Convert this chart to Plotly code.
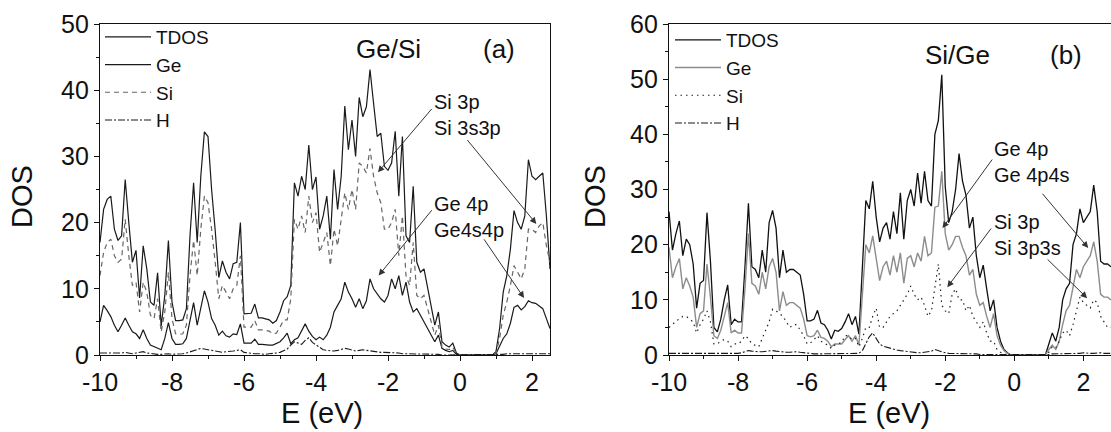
import numpy as np
import plotly.graph_objects as go

# Energy grids (eV) for the two panels, 0.1 eV sampling
E_A = np.round(np.arange(-10.0, 2.5001, 0.1), 1)
E_B = np.round(np.arange(-10.0, 2.8001, 0.1), 1)

# ---- panel (a): Ge/Si ----
TDOS_A = [
    17, 22, 23.5, 24, 19, 17.3, 18, 26.5, 20, 14,
    15.8, 8.6, 16.5, 13, 8, 7.5, 12.4, 4.4, 9, 17.3,
    8, 5.2, 5.2, 5.3, 7, 18, 26, 17, 27, 33.7,
    33, 25, 18.8, 11.7, 14.2, 12.5, 11.5, 13.8, 14, 20,
    6.2, 6.2, 6.3, 7.7, 5.6, 5.6, 5.5, 5.3, 4.8, 5.2,
    6.5, 8.2, 8.8, 10.5, 26, 24, 27, 25, 31.7, 25,
    26.9, 19, 21, 24, 17.5, 28, 22, 27, 37.6, 31,
    35.5, 30, 38.9, 36, 37.5, 43.1, 38, 33, 33.5, 28.5,
    27.9, 29, 33.8, 24, 33, 18, 17, 25.5, 14, 12.5,
    13, 10, 7, 4.5, 6.5, 2, 1.5, 1.2, 1.8, 0.3,
    0, 0, 0, 0, 0, 0, 0, 0, 0, 0,
    0.5, 4, 9.5, 12, 16, 21.8, 20, 19, 21, 29.5,
    27, 26.5, 27, 27.5, 21, 13,
]
GE_A = [
    5, 7.5, 6.7, 5.8, 4.5, 3.5, 4.5, 5.6, 4.5, 3.5,
    3.2, 2.5, 3.8, 2.5, 1.5, 1.3, 1.1, 0.8, 2.5, 4.9,
    2.5, 1.6, 1.6, 1.7, 2.5, 5.5, 7.9, 4.5, 7, 9.7,
    8, 5.5, 4.5, 3, 3.6, 2.9, 2.7, 3.2, 3.1, 4.7,
    1.8, 1.8, 1.8, 2.4, 1.6, 1.6, 1.5, 1.5, 1.5, 1.8,
    2.0, 2.6, 3.3, 1.7, 2.3, 2.6, 3.6, 4.7, 3.6, 2.8,
    2.3, 2.7, 2.3, 3.0, 4.2, 6.5, 7.5, 8.5, 11, 9.5,
    8.5, 7.2, 8.5, 7, 8.2, 11.5, 10, 9.2, 8.5, 8,
    9, 11.5, 10, 12, 9, 11, 8, 6.5, 7, 6,
    5, 4, 3, 2, 3, 1, 0.7, 0.5, 0.7, 0.1,
    0, 0, 0, 0, 0, 0, 0, 0, 0, 0,
    0.2, 1.3, 2.5, 3.2, 4.8, 7.2, 7.5, 6.8, 7.3, 8.2,
    7.9, 7.8, 7.4, 7.0, 5.5, 4,
]
SI_A = [
    12, 15.5, 17, 17.5, 15, 14, 14.5, 20.5, 15, 10.5,
    11, 6.5, 11, 9.5, 6, 5.5, 8.5, 3.5, 6.5, 12.5,
    5.5, 3.2, 3.1, 3.2, 4.5, 12, 17.3, 12, 19, 24,
    23, 19, 14, 8.5, 10.5, 9.5, 8.5, 10, 10.5, 15,
    4.2, 4.2, 4.2, 5.2, 3.8, 3.8, 3.7, 3.6, 3.2, 3.3,
    4.2, 5.3, 5.3, 8.5, 20.5, 19, 21, 18.5, 24, 20,
    21.5, 15.5, 17, 18.5, 13.5, 19, 16.5, 20.5, 24.5, 22,
    25, 22, 29, 28.5, 27.5, 31.2, 27, 24.5, 23, 19,
    19, 20, 22, 15, 21, 12, 10.5, 17, 9, 8.5,
    9, 7, 5, 3, 4.5, 1.3, 0.9, 0.8, 1.2, 0.2,
    0, 0, 0, 0, 0, 0, 0, 0, 0, 0,
    0.3, 2.5, 6, 8, 10.5, 13.5, 12.5, 11.5, 13, 19,
    19, 18.5, 19.5, 20, 16.5, 14,
]
H_A = [
    0.3, 0.3, 0.2, 0.2, 0.2, 0.3, 0.3, 0.4, 0.3, 0.2,
    0.3, 0.4, 0.5, 0.3, 0.2, 0.2, 0.1, 0.1, 0.2, 0.2,
    0.1, 0.1, 0.1, 0.2, 0.3, 0.5, 0.7, 0.8, 1.0, 0.9,
    0.8, 0.6, 0.5, 0.4, 0.4, 0.5, 0.5, 0.6, 0.7, 0.8,
    0.4, 0.3, 0.2, 0.2, 0.2, 0.1, 0.1, 0.2, 0.2, 0.3,
    0.4, 0.6, 0.9, 1.5, 2.0, 1.8, 1.6, 2.2, 2.6, 1.9,
    1.5, 1.1, 0.8, 0.7, 0.6, 0.6, 0.7, 0.8, 1.0, 0.9,
    0.8, 0.6, 0.7, 0.8, 0.7, 0.6, 0.5, 0.5, 0.4, 0.4,
    0.4, 0.3, 0.3, 0.3, 0.2, 0.2, 0.2, 0.2, 0.1, 0.1,
    0.1, 0.1, 0.1, 0.1, 0.1, 0.0, 0.0, 0.0, 0.0, 0.0,
    0, 0, 0, 0, 0, 0, 0, 0, 0, 0,
    0.0, 0.1, 0.1, 0.2, 0.2, 0.2, 0.2, 0.3, 0.2, 0.2,
    0.3, 0.3, 0.2, 0.3, 0.2, 0.2,
]

# ---- panel (b): Si/Ge ----
TDOS_B = [
    26, 19, 22, 24.3, 18, 21, 20, 16.5, 8.5, 13,
    13.5, 25.8, 17, 5, 4.2, 6.5, 10, 12.7, 5.5, 6.5,
    6, 6, 16, 27.5, 16, 15.5, 14, 19, 15, 24,
    26.2, 23, 14, 19, 15, 15.5, 15.5, 15, 14.5, 11,
    6.2, 6.2, 6.5, 8.1, 5.8, 5.5, 4.5, 2.9, 4.5, 4.3,
    4.8, 6, 7.5, 5.5, 7, 3.8, 17, 28, 26.5, 31.5,
    25, 20.5, 23, 24, 21, 26, 22, 29.4, 21, 28,
    30, 27, 33, 27.5, 33.3, 28, 27, 40, 42.5, 50.8,
    30.5, 24, 26, 30, 36.5, 31.5, 29, 23, 25, 18,
    14, 16.3, 12, 8, 10, 5, 2.5, 1, 0.4, 0,
    0, 0, 0, 0, 0, 0, 0, 0, 0, 0,
    2, 4, 2.5, 5, 10, 12, 13, 20, 22, 26.5,
    24, 25, 26, 30.8, 26, 17, 16.5, 16.5, 16,
]
GE_B = [
    19.5, 14, 16, 17.5, 12, 14, 12.5, 10.5, 5, 7.5,
    8, 16.5, 10.5, 3.5, 3, 4.5, 7, 9.5, 4, 4.5,
    4, 4, 12, 22, 13, 12.5, 11, 15, 12, 16,
    17.5, 15, 8, 11.5, 9, 9.5, 9.5, 9, 8.5, 6.5,
    3.5, 3.3, 3.5, 4.5, 3.2, 3, 2.5, 1.5, 2, 2,
    2, 2.8, 3.5, 2.5, 3.5, 1.8, 10, 20, 18.5, 21.6,
    17.5, 13.5, 16, 17, 14.5, 18, 15, 18.5, 13, 17.5,
    18, 16, 18.5, 17, 21.5, 18, 18.5, 26.8, 27, 33.3,
    22, 19, 20, 21.5, 21.5, 19.5, 18, 14.5, 15.5, 11,
    9, 9.5, 7, 5, 7.5, 3.5, 1.8, 0.8, 0.3, 0,
    0, 0, 0, 0, 0, 0, 0, 0, 0, 0,
    1, 1.8, 1, 2.5, 5.5, 8, 9, 12, 15.5, 14,
    16, 17, 18, 20.5, 17, 11, 10.5, 10.5, 10,
]
SI_B = [
    5, 5.5, 6.2, 6.5, 7, 7, 6.5, 6, 4, 5.5,
    6.5, 8, 6, 2, 2, 2.5, 2.8, 2.5, 1.5, 2,
    2, 2.5, 3.5, 3, 2, 1.8, 1.5, 3, 4.5, 6,
    8.3, 8, 7.5, 7, 6, 5, 5.5, 5.5, 4.5, 3.5,
    2, 2.2, 2.8, 3.5, 2.5, 2.2, 1.8, 1.2, 1.8, 2,
    2.3, 3.5, 3.5, 2.8, 3, 1.5, 3, 5, 5, 7,
    8.5, 5, 5, 6, 7, 7.5, 8, 9, 10, 11,
    12.5, 11, 10, 10.5, 9, 7, 8, 12, 16.5, 9,
    8, 7.5, 11, 12, 10, 10, 8, 9, 7, 6,
    5, 6, 4, 2.5, 2.5, 1, 0.5, 0.2, 0, 0,
    0, 0, 0, 0, 0, 0, 0, 0, 0, 0,
    0.5, 1.5, 1.3, 2.5, 4, 4.5, 3.5, 5.5, 8, 10.5,
    9.5, 9, 8.5, 10, 9.5, 7, 6, 5, 5,
]
H_B = [
    0.3, 0.3, 0.3, 0.2, 0.2, 0.2, 0.3, 0.3, 0.2, 0.2,
    0.3, 0.3, 0.3, 0.2, 0.2, 0.2, 0.2, 0.3, 0.3, 0.2,
    0.3, 0.4, 0.6, 0.8, 0.7, 0.6, 0.6, 0.6, 0.7, 0.7,
    0.8, 0.7, 0.6, 0.6, 0.5, 0.5, 0.6, 0.6, 0.5, 0.4,
    0.3, 0.2, 0.2, 0.2, 0.2, 0.2, 0.2, 0.2, 0.2, 0.2,
    0.2, 0.2, 0.2, 0.2, 0.2, 0.3, 0.8, 2.2, 3.3, 4.0,
    3.0, 2.0, 1.6, 1.4, 1.2, 1.0, 0.9, 0.8, 0.7, 0.6,
    0.5, 0.5, 0.4, 0.4, 0.5, 0.6, 0.7, 1.0, 0.8, 0.5,
    0.4, 0.3, 0.3, 0.3, 0.2, 0.2, 0.2, 0.2, 0.2, 0.2,
    0.1, 0.1, 0.1, 0.1, 0.1, 0.1, 0.0, 0.0, 0.0, 0.0,
    0, 0, 0, 0, 0, 0, 0, 0, 0, 0,
    0.1, 0.2, 0.2, 0.2, 0.2, 0.2, 0.3, 0.3, 0.3, 0.3,
    0.4, 0.3, 0.3, 0.3, 0.4, 0.4, 0.3, 0.3, 0.3,
]

SERIES_NAMES = ["TDOS", "Ge", "Si", "H"]
X_TICKS = [-10, -8, -6, -4, -2, 0, 2]
X_TICK_TEXT = ["-10", "-8", "-6", "-4", "-2", "0", "2"]
Y_TICKS_A = [0, 10, 20, 30, 40, 50]
Y_TICKS_B = [0, 10, 20, 30, 40, 50, 60]

FONT = "Liberation Sans, Arial, Helvetica, sans-serif"
W, H = 1111, 432

fig = go.Figure()

style_a = [
    dict(color="#1a1a1a", width=1.2),
    dict(color="#1a1a1a", width=1.2),
    dict(color="#666666", width=1.2, dash="5px,4px"),
    dict(color="#1a1a1a", width=1.1, dash="7px,2px,2px,2px"),
]
style_b = [
    dict(color="#111111", width=1.3),
    dict(color="#8c8c8c", width=1.4),
    dict(color="#222222", width=1.2, dash="1.5px,4px"),
    dict(color="#1a1a1a", width=1.1, dash="7px,2px,2px,2px"),
]

for name, ys, ln in zip(SERIES_NAMES, [TDOS_A, GE_A, SI_A, H_A], style_a):
    fig.add_trace(go.Scatter(x=E_A, y=ys, mode="lines", name=name, line=ln,
                             xaxis="x", yaxis="y", legend="legend"))
for name, ys, ln in zip(SERIES_NAMES, [TDOS_B, GE_B, SI_B, H_B], style_b):
    fig.add_trace(go.Scatter(x=E_B, y=ys, mode="lines", name=name, line=ln,
                             xaxis="x2", yaxis="y2", legend="legend2"))

y_dom = [1 - 355 / H, 1 - 24 / H]

axis_common = dict(
    showline=True, linecolor="#111", linewidth=1.3, showgrid=False, zeroline=False,
    automargin=False,
    ticks="outside", ticklen=5, tickwidth=1.2, tickcolor="#111",
    tickfont=dict(family=FONT, size=25, color="#111"),
)
x_minor = dict(dtick=1, ticklen=3, tickwidth=1, tickcolor="#111", ticks="outside")
y_minor = dict(dtick=5, ticklen=3, tickwidth=1, tickcolor="#111", ticks="outside")

legend_font = dict(family=FONT, size=19, color="#111")

fig.update_layout(
    width=W, height=H,
    margin=dict(l=0, r=0, t=0, b=0),
    paper_bgcolor="white", plot_bgcolor="white",
    font=dict(family=FONT, color="#111"),
    xaxis=dict(domain=[100 / W, 550 / W], range=[-10, 2.5], anchor="y", mirror=True,
               tickvals=X_TICKS, ticktext=X_TICK_TEXT, minor=x_minor, **axis_common),
    yaxis=dict(domain=y_dom, range=[0, 50], anchor="x", mirror=True,
               tickvals=Y_TICKS_A, minor=y_minor, **axis_common),
    xaxis2=dict(domain=[669 / W, 1.0], range=[-10, 2.8], anchor="y2", mirror=True,
                tickvals=X_TICKS, ticktext=X_TICK_TEXT, minor=x_minor, **axis_common),
    yaxis2=dict(domain=y_dom, range=[0, 60], anchor="x2", mirror=False,
                tickvals=Y_TICKS_B, minor=y_minor, **axis_common),
    legend=dict(x=100 / W, y=1 - 18 / H, xanchor="left", yanchor="top",
                bgcolor="rgba(0,0,0,0)", font=legend_font,
                tracegroupgap=0, itemwidth=46),
    legend2=dict(x=670 / W, y=1 - 21 / H, xanchor="left", yanchor="top",
                 bgcolor="rgba(0,0,0,0)", font=legend_font,
                 tracegroupgap=0, itemwidth=46),
    showlegend=True,
)

ann = []
center = dict(xanchor="center", yanchor="middle", showarrow=False)
# axis titles
for xc in (22 / W, 595 / W):
    ann.append(dict(text="DOS", x=xc, y=1 - 197 / H, xref="paper", yref="paper",
                    textangle=-90, font=dict(size=29), **center))
for xc in (322 / W, 889 / W):
    ann.append(dict(text="E (eV)", x=xc, y=1 - 413 / H, xref="paper", yref="paper",
                    font=dict(size=29), **center))

# panel titles
ann += [
    dict(text="Ge/Si", x=-1.98, y=46.2, xref="x", yref="y", font=dict(size=26), **center),
    dict(text="(a)", x=1.09, y=46.2, xref="x", yref="y", font=dict(size=26), **center),
    dict(text="Si/Ge", x=-1.65, y=54.4, xref="x2", yref="y2", font=dict(size=26), **center),
    dict(text="(b)", x=1.50, y=54.4, xref="x2", yref="y2", font=dict(size=26), **center),
]

# orbital labels
label_kw = dict(showarrow=False, xanchor="left", yanchor="middle", align="left",
                font=dict(size=20))
ann += [
    dict(text="Si 3p<br>Si 3s3p", x=-0.78, y=36.3, xref="x", yref="y", **label_kw),
    dict(text="Ge 4p<br>Ge4s4p", x=-0.78, y=20.8, xref="x", yref="y", **label_kw),
    dict(text="Ge 4p<br>Ge 4p4s", x=-0.66, y=34.9, xref="x2", yref="y2", **label_kw),
    dict(text="Si 3p<br>Si 3p3s", x=-0.66, y=21.8, xref="x2", yref="y2", **label_kw),
]

# pointer arrows: (tip x, tip y, tail x, tail y, axis suffix)
arrows = [
    (-2.28, 27.6, -0.75, 37.4, ""),
    (2.12, 19.8, 0.17, 32.7, ""),
    (-2.26, 12.0, -0.75, 22.1, ""),
    (1.78, 8.6, 0.64, 17.7, ""),
    (-2.08, 23.0, -0.61, 35.7, "2"),
    (2.14, 19.4, 0.78, 29.5, "2"),
    (-1.94, 12.3, -0.64, 23.2, "2"),
    (2.11, 10.3, 0.92, 17.6, "2"),
]
for tx, ty, sx, sy, k in arrows:
    ann.append(dict(x=tx, y=ty, ax=sx, ay=sy, xref="x" + k, yref="y" + k,
                    axref="x" + k, ayref="y" + k, text="", showarrow=True,
                    arrowhead=2, arrowsize=1.3, arrowwidth=1, arrowcolor="#333"))

fig.update_layout(annotations=ann)
fig.write_html("out.html")
